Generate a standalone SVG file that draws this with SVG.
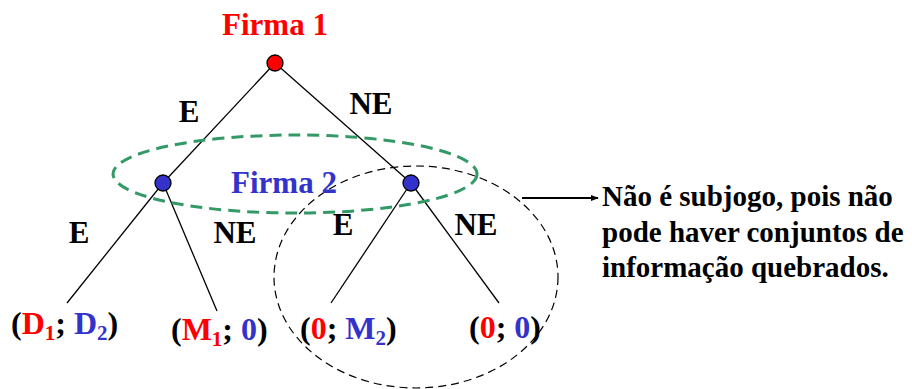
<svg xmlns="http://www.w3.org/2000/svg" width="912" height="389" viewBox="0 0 912 389">
<style>
.t{font-family:'Liberation Serif','DejaVu Serif',serif;font-weight:700;}
.lbl{font-size:31px;fill:#000;}
.pay{font-size:32px;fill:#000;}
.r{fill:#ff0000;}
.b{fill:#3333cc;}
.sub{font-size:21px;}
.note{font-size:29px;fill:#000;}
.edge{stroke:#000;stroke-width:1.3;fill:none;}
</style>
<defs>
<marker id="ah" viewBox="0 0 10 10" refX="9" refY="5" markerWidth="4" markerHeight="4" orient="auto"><path d="M0,1 L10,5 L0,9 z" fill="#000"/></marker>
</defs>
<rect width="912" height="389" fill="#fff"/>
<g id="connectors">
<line class="edge" x1="275" y1="63" x2="163" y2="183"/>
<line class="edge" x1="275" y1="63" x2="411" y2="183"/>
<line class="edge" x1="163" y1="183" x2="67" y2="303"/>
<line class="edge" x1="163" y1="183" x2="217" y2="311"/>
<line class="edge" x1="411" y1="183" x2="331" y2="303"/>
<line class="edge" x1="411" y1="183" x2="499" y2="303"/>
<line x1="522" y1="198" x2="598" y2="198" stroke="#000" stroke-width="2" marker-end="url(#ah)"/>
</g>
<g id="infoset">
<ellipse cx="295" cy="174" rx="182" ry="39" fill="none" stroke="#339966" stroke-width="3" stroke-dasharray="12 7"/>
</g>
<g id="subgame">
<ellipse cx="416" cy="277" rx="142" ry="111" fill="none" stroke="#000" stroke-width="1.2" stroke-dasharray="8 5"/>
</g>
<g id="firma1">
<text class="t r" x="275" y="35" text-anchor="middle" font-size="31">Firma 1</text>
<circle cx="275" cy="63" r="8" fill="#ff0000" stroke="#000" stroke-width="1.3"/>
</g>
<g id="firma2-left">
<circle cx="163" cy="183" r="8" fill="#3333cc" stroke="#000" stroke-width="1.3"/>
</g>
<g id="firma2-right">
<circle cx="411" cy="183" r="8" fill="#3333cc" stroke="#000" stroke-width="1.3"/>
</g>
<g id="firma2-label">
<text class="t b" x="284" y="193" text-anchor="middle" font-size="31">Firma 2</text>
</g>
<g id="edge-labels">
<text class="t lbl" x="189" y="122" text-anchor="middle">E</text>
<text class="t lbl" x="371" y="114" text-anchor="middle">NE</text>
<text class="t lbl" x="79" y="243" text-anchor="middle">E</text>
<text class="t lbl" x="235" y="243" text-anchor="middle">NE</text>
<text class="t lbl" x="343" y="235" text-anchor="middle">E</text>
<text class="t lbl" x="476" y="235" text-anchor="middle">NE</text>
</g>
<g id="leaf1"><text class="t pay" x="11" y="334">(<tspan class="r">D</tspan><tspan class="r sub" dy="6">1</tspan><tspan dy="-6">; </tspan><tspan class="b">D</tspan><tspan class="b sub" dy="6">2</tspan><tspan dy="-6">)</tspan></text></g>
<g id="leaf2"><text class="t pay" x="171" y="340">(<tspan class="r">M</tspan><tspan class="r sub" dy="6">1</tspan><tspan dy="-6">; </tspan><tspan class="b">0</tspan>)</text></g>
<g id="leaf3"><text class="t pay" x="300" y="339">(<tspan class="r">0</tspan>; <tspan class="b">M</tspan><tspan class="b sub" dy="6">2</tspan><tspan dy="-6">)</tspan></text></g>
<g id="leaf4"><text class="t pay" x="469" y="338">(<tspan class="r">0</tspan>; <tspan class="b">0</tspan>)</text></g>
<g id="note">
<text class="t note" x="602" y="206">Não é subjogo, pois não</text>
<text class="t note" x="602" y="242">pode haver conjuntos de</text>
<text class="t note" x="602" y="277">informação quebrados.</text>
</g>
</svg>
